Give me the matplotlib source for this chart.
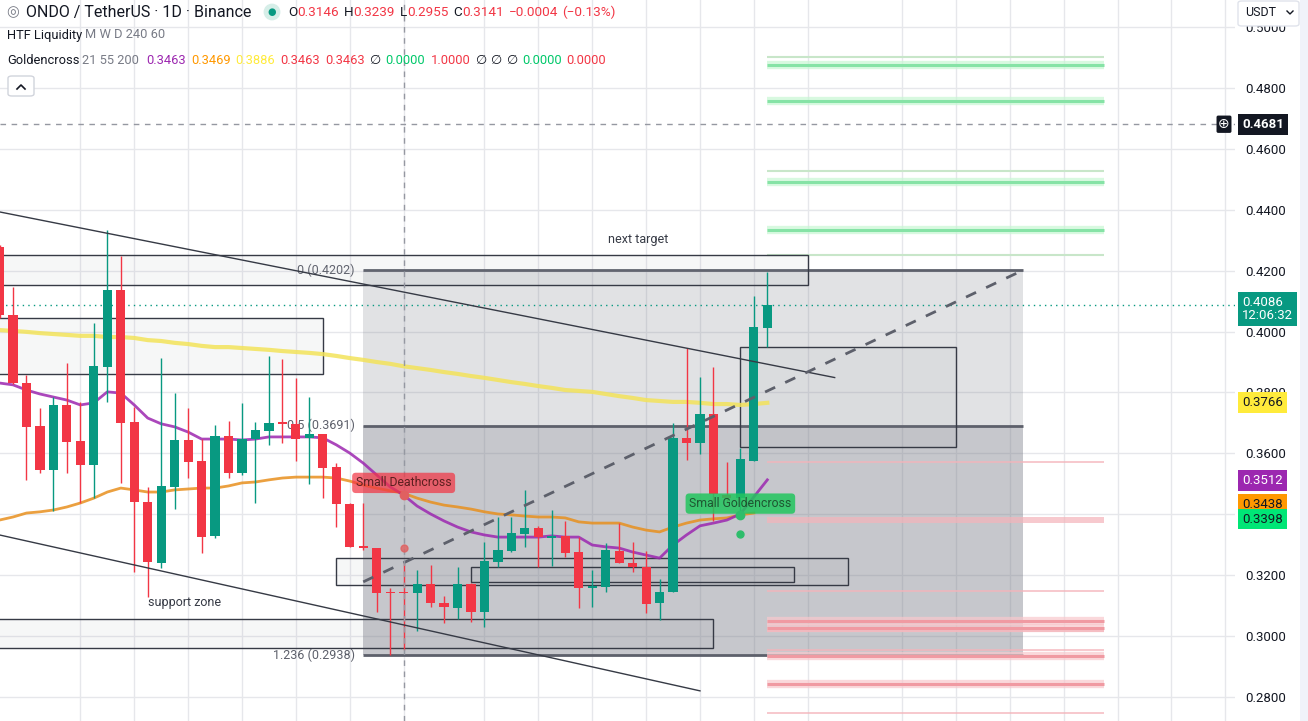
import matplotlib
matplotlib.use('Agg')
import numpy as np
import matplotlib.pyplot as plt
from matplotlib.patches import Rectangle, FancyBboxPatch
from matplotlib.lines import Line2D
from matplotlib.transforms import blended_transform_factory

plt.rcParams['font.family'] = ['Roboto', 'DejaVu Sans']

W, H = 1308, 721
RED, GREEN, INK, GREY = '#f23645', '#089981', '#131722', '#787b86'

#CANDLES  (index 0 = first daily candle at the left edge)
opens  = [0.4278, 0.4055, 0.3831, 0.3690, 0.3545, 0.3759, 0.3641, 0.3562, 0.3884, 0.4137,
          0.3703, 0.3440, 0.3240, 0.3490, 0.3644, 0.3575, 0.3329, 0.3657, 0.3536, 0.3647,
          0.3674, 0.3702, 0.3697, 0.3651, 0.3664, 0.3555, 0.3434, 0.3296, 0.3289, 0.3144,
          0.3146, 0.3142, 0.3171, 0.3109, 0.3092, 0.3171, 0.3079, 0.3243, 0.3279, 0.3335,
          0.3355, 0.3323, 0.3329, 0.3276, 0.3158, 0.3161, 0.3279, 0.3240, 0.3227, 0.3109,
          0.3145, 0.3651, 0.3634, 0.3729, 0.3463, 0.3453, 0.3575, 0.4012]
highs  = [0.4284, 0.4146, 0.3857, 0.3749, 0.3785, 0.3897, 0.3769, 0.4028, 0.4334, 0.4248,
          0.3752, 0.3490, 0.3913, 0.3798, 0.3749, 0.3647, 0.3694, 0.3706, 0.3766, 0.3703,
          0.3920, 0.3910, 0.3848, 0.3785, 0.3664, 0.3568, 0.3437, 0.3437, 0.3289, 0.3158,
          0.3239, 0.3217, 0.3233, 0.3132, 0.3227, 0.3174, 0.3309, 0.3391, 0.3391, 0.3480,
          0.3362, 0.3414, 0.3378, 0.3325, 0.3217, 0.3306, 0.3371, 0.3309, 0.3279, 0.3188,
          0.3700, 0.3946, 0.3851, 0.3884, 0.3572, 0.3618, 0.4117, 0.4196]
lows   = [0.4045, 0.3828, 0.3513, 0.3536, 0.3411, 0.3536, 0.3437, 0.3453, 0.3769, 0.3503,
          0.3211, 0.3128, 0.3224, 0.3417, 0.3519, 0.3273, 0.3322, 0.3519, 0.3529, 0.3437,
          0.3628, 0.3634, 0.3575, 0.3499, 0.3453, 0.3358, 0.3293, 0.3283, 0.3079, 0.2938,
          0.2955, 0.3017, 0.3096, 0.3043, 0.3056, 0.3046, 0.3030, 0.3227, 0.3276, 0.3293,
          0.3227, 0.3230, 0.3260, 0.3092, 0.3096, 0.3145, 0.3240, 0.3211, 0.3076, 0.3053,
          0.3145, 0.3578, 0.3598, 0.3378, 0.3437, 0.3404, 0.3575, 0.3949]
closes = [0.4055, 0.3831, 0.3687, 0.3545, 0.3759, 0.3637, 0.3562, 0.3887, 0.4137, 0.3700,
          0.3440, 0.3243, 0.3493, 0.3644, 0.3572, 0.3325, 0.3657, 0.3536, 0.3647, 0.3677,
          0.3700, 0.3697, 0.3647, 0.3664, 0.3552, 0.3434, 0.3293, 0.3289, 0.3142, 0.3140,
          0.3141, 0.3171, 0.3109, 0.3096, 0.3171, 0.3079, 0.3247, 0.3283, 0.3339, 0.3355,
          0.3325, 0.3327, 0.3273, 0.3158, 0.3165, 0.3283, 0.3240, 0.3227, 0.3105, 0.3145,
          0.3651, 0.3634, 0.3729, 0.3467, 0.3453, 0.3582, 0.4015, 0.4086]

#MOVING AVERAGES (Goldencross 21 55 200)
ma21  = [0.3831, 0.3825, 0.3808, 0.3795, 0.3785, 0.3775, 0.3759, 0.3766, 0.3802, 0.3798,
         0.3759, 0.3716, 0.3697, 0.3687, 0.3670, 0.3647, 0.3647, 0.3647, 0.3644, 0.3647,
         0.3654, 0.3654, 0.3654, 0.3654, 0.3651, 0.3628, 0.3601, 0.3568, 0.3529, 0.3490,
         0.3463, 0.3427, 0.3401, 0.3378, 0.3358, 0.3342, 0.3332, 0.3325, 0.3325, 0.3325,
         0.3325, 0.3329, 0.3325, 0.3325, 0.3299, 0.3293, 0.3289, 0.3276, 0.3266, 0.3256,
         0.3299, 0.3332, 0.3362, 0.3371, 0.3381, 0.3401, 0.3457, 0.3513]
ma55  = [0.3381, 0.3391, 0.3404, 0.3408, 0.3414, 0.3424, 0.3437, 0.3453, 0.3473, 0.3486,
         0.3480, 0.3473, 0.3473, 0.3480, 0.3483, 0.3486, 0.3486, 0.3493, 0.3503, 0.3506,
         0.3513, 0.3519, 0.3522, 0.3522, 0.3522, 0.3519, 0.3509, 0.3496, 0.3486, 0.3477,
         0.3469, 0.3453, 0.3440, 0.3430, 0.3424, 0.3417, 0.3408, 0.3401, 0.3398, 0.3394,
         0.3391, 0.3391, 0.3388, 0.3375, 0.3371, 0.3371, 0.3371, 0.3358, 0.3348, 0.3342,
         0.3358, 0.3371, 0.3381, 0.3385, 0.3388, 0.3398, 0.3404]
ma200 = [0.4005, 0.4002, 0.3999, 0.3995, 0.3992, 0.3989, 0.3986, 0.3986, 0.3982, 0.3982,
         0.3979, 0.3972, 0.3969, 0.3963, 0.3959, 0.3953, 0.3949, 0.3949, 0.3946, 0.3943,
         0.3940, 0.3936, 0.3933, 0.3930, 0.3926, 0.3920, 0.3913, 0.3907, 0.3900, 0.3894,
         0.3886, 0.3880, 0.3874, 0.3867, 0.3861, 0.3854, 0.3848, 0.3841, 0.3834, 0.3828,
         0.3821, 0.3815, 0.3808, 0.3805, 0.3802, 0.3795, 0.3788, 0.3782, 0.3775, 0.3772,
         0.3769, 0.3769, 0.3766, 0.3762, 0.3762, 0.3759, 0.3762, 0.3766]

#AXIS
tick_prices = [0.28, 0.30, 0.32, 0.34, 0.36, 0.38, 0.40, 0.42, 0.44, 0.46, 0.48, 0.50]
grid_idx = [6, 10, 14, 18, 22, 26, 30, 36, 40, 44, 48, 52, 56, 60, 67, 71, 75, 79, 83, 87, 91]

#DRAWINGS
fib_start, fib_end = 27, 76
fib_levels = [0.4202, 0.3691, 0.2938]
fib_names = ['0', '0.5', '1.236']

zone_x0 = [-2, -2, 55, 25, 35, -2]
zone_x1 = [60, 24, 71, 63, 59, 53]
zone_lo = [0.4153, 0.3861, 0.3621, 0.3168, 0.3178, 0.2961]
zone_hi = [0.4252, 0.4045, 0.3949, 0.3256, 0.3227, 0.3056]

upper_x, upper_p = [0, 62], [0.4393, 0.3849]
lower_x, lower_p = [0, 52], [0.3332, 0.2820]
fibline_x, fibline_p = [27, 76], [0.3178, 0.4202]

liq_x0, liq_x1 = 57, 82
green_liq = [0.4902, 0.4876, 0.4757, 0.4527, 0.4491, 0.4334, 0.4252]
green_thick = [False, True, True, False, True, True, False]
red_liq = [0.3572, 0.3388, 0.3381, 0.3375, 0.3148, 0.3050, 0.3027, 0.3017, 0.2954, 0.2935, 0.2843, 0.2748]
red_thick = [False, False, False, False, False, True, True, False, False, True, True, False]

cross_idx, cross_price = 30, 0.4681
death_idx, death_price = 30, 0.3463
gold_idx, gold_price = 55, 0.3398
tag_vals = [0.3766, 0.3512, 0.3438, 0.3398]
tag_cols = ['#ffeb3b', '#9c27b0', '#ff9800', '#00e676']
tag_text = [INK, 'white', INK, INK]


fig = plt.figure(figsize=(W / 100, H / 100), dpi=100, facecolor='white')
ax = fig.add_axes([0, 0, 1235 / W, 1])
ax.set_xlim(0.034, 91.72)
ax.set_ylim(0.2721, 0.5089)
for s in ax.spines.values():
    s.set_visible(False)
ax.set_xticks(grid_idx)
ax.set_yticks(tick_prices)
# the 0.3400 label is hidden under the indicator tags on the real chart
ax.set_yticklabels(['' if abs(p - 0.34) < 1e-6 else '{:.4f}'.format(p) for p in tick_prices])
ax.yaxis.tick_right()
ax.tick_params(axis='x', length=0, labelbottom=False)
ax.tick_params(axis='y', length=0, labelsize=9.5, labelcolor=INK, pad=7.5)
ax.set_axisbelow(True)
ax.grid(True, color='#e6e7eb', lw=1)

# fib retracement
ax.fill_between([fib_start, fib_end], fib_levels[1], fib_levels[0], color=GREY, alpha=0.22, lw=0, zorder=1)
ax.fill_between([fib_start, fib_end], fib_levels[2], fib_levels[1], color=GREY, alpha=0.42, lw=0, zorder=1)
ax.hlines(fib_levels, fib_start, fib_end, color='#5d606b', lw=2, zorder=2)
for lv, nm in zip(fib_levels, fib_names):
    ax.annotate('{} ({:.4f})'.format(nm, lv), xy=(fib_start, lv), xytext=(-6, 0),
                textcoords='offset points', ha='right', va='center', fontsize=9, color='#5d606b')

# liquidity levels
for p, thick in zip(green_liq, green_thick):
    if thick:
        ax.hlines(p, liq_x0, liq_x1, color='#c8f7d4', lw=6, alpha=0.7, zorder=2)
        ax.hlines(p, liq_x0, liq_x1, color='#86e3a6', lw=2.2, zorder=2)
    else:
        ax.hlines(p, liq_x0, liq_x1, color='#c8e6c9', lw=1.5, zorder=2)
for p, thick in zip(red_liq, red_thick):
    if thick:
        ax.hlines(p, liq_x0, liq_x1, color='#f8c8cc', lw=6, alpha=0.7, zorder=2)
        ax.hlines(p, liq_x0, liq_x1, color='#f09aa2', lw=2.2, zorder=2)
    else:
        ax.hlines(p, liq_x0, liq_x1, color='#f4b4ba', lw=1.2, alpha=0.85, zorder=2)

# zones
for x0, x1, lo, hi in zip(zone_x0, zone_x1, zone_lo, zone_hi):
    ax.add_patch(Rectangle((x0, lo), x1 - x0, hi - lo, fc=(0.58, 0.6, 0.63, 0.08),
                           ec='#363a45', lw=1, zorder=3))

# moving averages
ax.plot(range(len(ma200)), ma200, color='#f3e35a', lw=3, alpha=0.85, zorder=4)
ax.plot(range(len(ma55)), ma55, color='#e8901e', lw=2, alpha=0.85, zorder=4)
ax.plot(range(len(ma21)), ma21, color='#9c27b0', lw=2, alpha=0.85, zorder=4)

# candles
x = np.arange(len(opens))
o, c = np.array(opens), np.array(closes)
cols = np.where(c >= o, GREEN, RED)
ax.vlines(x, lows, highs, colors=cols, lw=1, zorder=5)
ax.bar(x, np.maximum(np.abs(c - o), 0.0005), bottom=np.minimum(o, c), width=0.68,
       color=cols, lw=0, zorder=5)

# trend lines
ax.plot(upper_x, upper_p, color='#363a45', lw=1, zorder=6)
ax.plot(lower_x, lower_p, color='#363a45', lw=1, zorder=6)
ax.plot(fibline_x, fibline_p, color='#5d606b', lw=2, ls=(0, (4, 4)), zorder=6)

# crosshair and last price line
ax.axvline(cross_idx, color='#9598a1', lw=1, ls=(0, (4, 4)), zorder=7)
ax.axhline(cross_price, color='#9598a1', lw=1, ls=(0, (4, 4)), zorder=7)
ax.axhline(closes[-1], color=GREEN, lw=1, ls=(0, (1, 3)), zorder=2)

# cross signals
ax.text(death_idx, 0.3503, 'Small Deathcross', ha='center', va='center', fontsize=8.8,
        color='#5c1f1f', zorder=8, bbox=dict(boxstyle='round,pad=0.3', fc=RED, alpha=0.72, ec='none'))
ax.plot(death_idx, death_price, 'o', color='#e06060', ms=6, zorder=8)
ax.plot(death_idx, 0.3289, 'o', color='#e06060', ms=5, alpha=0.8, zorder=8)
ax.text(gold_idx, 0.3435, 'Small Goldencross', ha='center', va='center', fontsize=8.8,
        color='#1e5631', zorder=8, bbox=dict(boxstyle='round,pad=0.3', fc='#22c55e', alpha=0.85, ec='none'))
ax.plot(gold_idx, gold_price, 'o', color='#2ebd6b', ms=6, zorder=8)
ax.plot(gold_idx, 0.3335, 'o', color='#2ebd6b', ms=5, zorder=8)

ax.text(47.4, 0.4304, 'next target', ha='center', va='center', fontsize=9, color='#363a45')
ax.text(13.7, 0.3109, 'support zone', ha='center', va='center', fontsize=9, color='#363a45')

# price tags on the scale
tr = blended_transform_factory(ax.transAxes, ax.transData)
tag_shift = [0, 0, -1, -3]
for val, fc, tc, sh in zip(tag_vals, tag_cols, tag_text, tag_shift):
    ax.annotate('{:.4f}'.format(val), xy=(1242 / 1235, val), xycoords=tr, xytext=(0, sh),
                textcoords='offset points', ha='left', va='center', fontsize=9.5, color=tc,
                annotation_clip=False, zorder=9,
                bbox=dict(boxstyle='square,pad=0.3', fc=fc, ec='none'))
ax.annotate('{:.4f}\n12:06:32'.format(closes[-1]), xy=(1242 / 1235, closes[-1]), xycoords=tr,
            xytext=(0, 6.5), textcoords='offset points', ha='left', va='top', fontsize=9.5,
            color='white', linespacing=1.0, annotation_clip=False, zorder=9,
            bbox=dict(boxstyle='square,pad=0.3', fc=GREEN, ec='none'))
ax.annotate('{:.4f}'.format(cross_price), xy=(1242 / 1235, cross_price), xycoords=tr,
            ha='left', va='center', fontsize=9.5, color='white', fontweight='bold',
            annotation_clip=False, zorder=9,
            bbox=dict(boxstyle='square,pad=0.3', fc=INK, ec='none'))
ax.text(1224 / 1235, cross_price, '\u2295', transform=tr, ha='center', va='center', color='white',
        fontsize=10, zorder=9, bbox=dict(boxstyle='round,pad=0.12', fc=INK, ec='none'))

# right strip and currency box (covers the top 0.5000 label as on the original)
fig.patches.append(Rectangle((1300 / W, 0), 8 / W, 1, transform=fig.transFigure,
                             fc='#f0f3fa', ec='none'))
fig.patches.append(FancyBboxPatch((1238 / W, 1 - 26 / H), 61 / W, 25 / H,
                                  boxstyle='round,pad=0,rounding_size=0.003',
                                  transform=fig.transFigure, fc='white', ec='#e0e3eb', lw=1,
                                  zorder=10))
fig.text(1245 / W, 1 - 12 / H, 'USDT', fontsize=9, color=INK, ha='left', va='center', zorder=11)
fig.add_artist(Line2D([1287 / W, 1290 / W, 1293 / W], [1 - 11 / H, 1 - 14 / H, 1 - 11 / H],
                      color=INK, lw=1, zorder=11))

# legend header
rend = fig.canvas.get_renderer()


def text_run(x0, y0, pieces, size):
    xx = x0
    for s, colr, gap in pieces:
        t = fig.text(xx / W, 1 - y0 / H, s, color=colr, fontsize=size, ha='left', va='center')
        xx += t.get_window_extent(rend).width + gap
    return xx


fig.text(13 / W, 1 - 12 / H, '\u25ce', color=GREY, fontsize=10.5, ha='center', va='center')
text_run(26, 12, [('ONDO / TetherUS \u00b7 1D \u00b7 Binance', INK, 0)], 11.5)
fig.text(272 / W, 1 - 12 / H, '\u25cf', color=GREEN, fontsize=7, ha='center', va='center',
         bbox=dict(boxstyle='circle,pad=0.35', fc='#d6eee8', ec='none'))
text_run(288, 12, [('O', INK, 0), ('0.3146', RED, 5), ('H', INK, 0), ('0.3239', RED, 5),
                   ('L', INK, 0), ('0.2955', RED, 5), ('C', INK, 0), ('0.3141', RED, 5),
                   ('\u22120.0004', RED, 4), ('(\u22120.13%)', RED, 0)], 9.7)
text_run(7, 35, [('HTF Liquidity', INK, 3), ('M W D 240 60', GREY, 0)], 9.3)
text_run(7, 60, [('Goldencross', INK, 3), ('21 55 200', GREY, 7), ('0.3463', '#9c27b0', 5),
                 ('0.3469', '#ff9800', 5), ('0.3886', '#ffeb3b', 5), ('0.3463', RED, 5),
                 ('0.3463', RED, 5), ('\u2205', INK, 5), ('0.0000', '#00c86a', 5),
                 ('1.0000', RED, 5), ('\u2205', INK, 4), ('\u2205', INK, 4), ('\u2205', INK, 5),
                 ('0.0000', '#00c86a', 5), ('0.0000', RED, 0)], 9.3)
fig.patches.append(FancyBboxPatch((8 / W, 1 - 96 / H), 26 / W, 20 / H,
                                  boxstyle='round,pad=0,rounding_size=0.003',
                                  transform=fig.transFigure, fc='white', ec='#d1d4dc', lw=1))
fig.add_artist(Line2D([17 / W, 21 / W, 25 / W], [1 - 89 / H, 1 - 85 / H, 1 - 89 / H],
                      color=INK, lw=1.2))

fig.savefig('out.png', dpi=100, facecolor='white')
